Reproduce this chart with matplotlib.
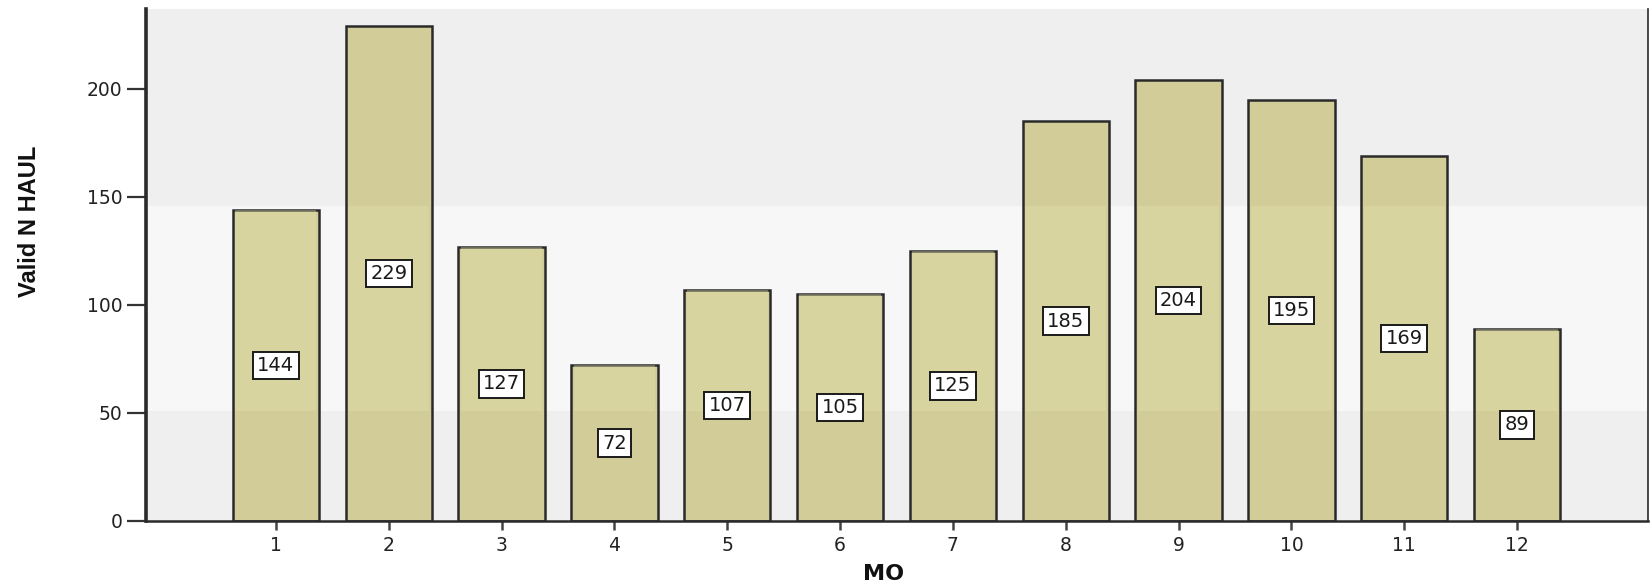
import numpy as np
import matplotlib.pyplot as plt
import matplotlib.transforms as mtransforms
from matplotlib.patches import Rectangle

# counts of valid HAUL records per month
months = [1, 2, 3, 4, 5, 6, 7, 8, 9, 10, 11, 12]
valid_n = [144, 229, 127, 72, 107, 105, 125, 185, 204, 195, 169, 89]
yticks = [0, 50, 100, 150, 200]

plt.rcParams['font.family'] = ['DejaVu Sans']

fig = plt.figure(figsize=(16.5, 5.87), dpi=100)
ax = fig.add_axes([146/1650, 1 - 521/587, (1648-146)/1650, (521-9)/587])
ax.set_facecolor('#efefef')

ax.bar(months, valid_n, width=0.765, color='#d2cd98', edgecolor='#2a2a2a',
       linewidth=1.8, zorder=1)

for m, v in zip(months, valid_n):
    ax.text(m, v/2, str(v), ha='center', va='center', fontsize=14,
            color='#1a1a1a', zorder=4,
            bbox=dict(boxstyle='square,pad=0.22', fc='white', ec='#1a1a1a', lw=1.4))

# pale washed-out band across the middle, behind the bars
tr = mtransforms.blended_transform_factory(fig.transFigure, ax.transData)
band = Rectangle((0, 51), 1, 95, transform=tr, facecolor='white', alpha=0.55,
                 edgecolor='none', zorder=0.5, clip_on=False)
ax.add_artist(band)
# a lighter tint on the bars inside the band
for m, v in zip(months, valid_n):
    ax.bar(m, min(v, 146) - 51, bottom=51, width=0.72, color='#e4e2b0',
           alpha=0.35, linewidth=0, zorder=1.2)

ax.set_xlim(-0.151, 13.16)
ax.set_ylim(0, 237)
ax.set_xticks(months)
ax.set_yticks(yticks)
ax.tick_params(axis='y', length=14, width=1.6, color='#333333', labelsize=13.5,
               labelcolor='#222222', pad=3)
ax.tick_params(axis='x', length=6.5, width=1.8, color='#444444', labelsize=13.5,
               labelcolor='#222222', pad=4)

ax.spines['top'].set_visible(False)
ax.spines['left'].set_linewidth(2.6)
ax.spines['left'].set_color('#2a2a2a')
ax.spines['bottom'].set_linewidth(1.8)
ax.spines['bottom'].set_color('#2a2a2a')
ax.spines['right'].set_linewidth(1.2)
ax.spines['right'].set_color('#2a2a2a')

fig.text(30/1650, 1 - 221/587, 'Valid N HAUL', rotation=90, ha='center', va='center',
         fontsize=17, fontweight='bold', color='#111111',
         family=['Liberation Sans Narrow', 'Liberation Sans', 'DejaVu Sans'])
fig.text(884/1650, 1 - 574/587, 'MO', ha='center', va='center',
         fontsize=16, fontweight='bold', color='#111111',
         family=['DejaVu Sans'])

fig.savefig('out.png', dpi=100)
